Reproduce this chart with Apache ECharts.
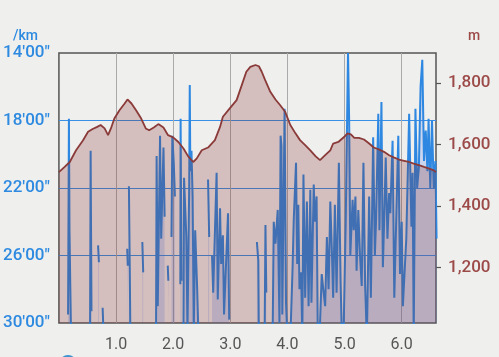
<!DOCTYPE html>
<html>
<head>
<meta charset="utf-8">
<script src="https://cdn.jsdelivr.net/npm/echarts@6/dist/echarts.min.js"></script>
<style>
  html, body { margin: 0; padding: 0; background: #efefee; }
  #chart { width: 499px; height: 357px; }
</style>
</head>
<body>
<div id="chart"></div>
<script>
// pace axis ticks (min per km, axis is inverted) and elevation ticks (m)
const paceTicks = [14, 18, 22, 26, 30]
const elevTicks = [1200, 1400, 1600, 1800]

// [distance km, elevation m]
const elevation = [
  [0, 1510], [0.1, 1527], [0.19, 1543], [0.3, 1581], [0.42, 1613], [0.51, 1641],
  [0.59, 1650], [0.67, 1657], [0.73, 1663], [0.8, 1652], [0.86, 1630], [0.91, 1652],
  [0.97, 1684], [1.06, 1711], [1.15, 1733], [1.2, 1746], [1.27, 1733], [1.35, 1711],
  [1.44, 1684], [1.52, 1652], [1.58, 1646], [1.66, 1655], [1.74, 1666], [1.83, 1655],
  [1.91, 1630], [2.0, 1623], [2.09, 1608], [2.18, 1587], [2.26, 1562], [2.35, 1543],
  [2.41, 1554], [2.5, 1581], [2.61, 1590], [2.73, 1614], [2.82, 1657], [2.87, 1690],
  [2.99, 1717], [3.11, 1744], [3.19, 1787], [3.28, 1836], [3.35, 1852], [3.44, 1858],
  [3.5, 1854], [3.55, 1836], [3.61, 1809], [3.7, 1771], [3.79, 1746], [3.87, 1728],
  [3.96, 1706], [4.05, 1663], [4.14, 1636], [4.22, 1614], [4.31, 1598], [4.4, 1581],
  [4.49, 1562], [4.57, 1549], [4.66, 1565], [4.75, 1581], [4.8, 1603], [4.89, 1608],
  [4.99, 1624], [5.05, 1636], [5.11, 1633], [5.17, 1621], [5.25, 1621], [5.34, 1616],
  [5.43, 1603], [5.51, 1590], [5.6, 1584], [5.69, 1576], [5.78, 1565], [5.86, 1558],
  [5.95, 1551], [6.04, 1547], [6.13, 1543], [6.21, 1538], [6.3, 1533], [6.39, 1527],
  [6.47, 1522], [6.56, 1516], [6.6, 1510]
]

// [distance km, pace min/km]; null = no reading, > 30 = off the chart
const pace = [
  [0.15, null],
  [0.16, 29.5], [0.175, 17.9], [0.185, 24.5], [0.2, 28.0], [0.21, 30.2],
  [0.3, null],
  [0.545, 30.5], [0.555, 19.8], [0.57, 29.3],
  [0.62, null],
  [0.685, 25.4], [0.7, 26.4],
  [0.73, null],
  [0.765, 29.1], [0.78, 30.5],
  [1.0, null],
  [1.195, 25.6], [1.205, 26.6],
  [1.21, null],
  [1.225, 21.9], [1.24, 26.8], [1.25, 30.5],
  [1.35, null],
  [1.46, 25.2], [1.475, 27.0],
  [1.6, null],
  [1.7, 30.5], [1.71, 20.1], [1.73, 29.0], [1.77, 18.9], [1.79, 25.0], [1.83, 19.6], [1.85, 23.7],
  [1.88, null],
  [1.905, 26.6], [1.915, 27.5],
  [1.94, null],
  [1.97, 24.9], [1.985, 18.9], [2.01, 20.5], [2.03, 22.5],
  [2.08, null],
  [2.125, 27.7], [2.13, 17.9], [2.145, 27.5],
  [2.16, null],
  [2.18, 30.5], [2.19, 21.4], [2.23, 24.9], [2.25, 30.5], [2.28, 22.0], [2.29, 15.9], [2.3, 21.0],
  [2.32, 19.8], [2.34, 22.5], [2.36, 30.5], [2.385, 24.5], [2.42, 28.0], [2.44, 30.5],
  [2.5, null],
  [2.61, 21.5], [2.63, 24.9],
  [2.65, null],
  [2.68, 26.0], [2.7, 28.2], [2.76, 21.1], [2.78, 28.6], [2.82, 23.2], [2.84, 26.5], [2.87, 24.8],
  [2.89, 29.5], [2.96, 23.5], [2.98, 29.8],
  [3.2, null],
  [3.465, 25.2], [3.49, 26.3], [3.5, 31],
  [3.55, null],
  [3.6, 31], [3.615, 24.2], [3.63, 28.2],
  [3.7, null],
  [3.74, 31], [3.76, 24.0], [3.79, 25.3], [3.83, 23.3], [3.86, 30], [3.88, 18.9], [3.895, 19.5],
  [3.91, 29.5], [3.95, 17.3], [3.975, 28.8], [4.0, 31], [4.05, 31], [4.09, 26.7], [4.11, 23.9],
  [4.15, 20.5], [4.17, 26.5], [4.19, 23], [4.21, 28.0], [4.24, 27], [4.26, 31], [4.28, 21.2],
  [4.31, 28.5], [4.34, 22.8], [4.37, 29], [4.4, 22.1], [4.42, 28.8], [4.46, 21.8], [4.48, 24],
  [4.51, 22.5], [4.53, 30.5], [4.56, 31], [4.6, 27.1], [4.63, 28.1], [4.66, 29], [4.69, 24.9],
  [4.72, 28], [4.75, 22.8], [4.78, 26], [4.8, 28.5], [4.83, 23], [4.86, 28.2], [4.9, 20.5],
  [4.93, 27.5], [4.95, 30.5], [4.98, 31], [5.02, 24], [5.06, 14.0], [5.08, 18], [5.1, 26],
  [5.14, 22.7], [5.16, 24.5], [5.19, 22.5], [5.21, 26.9], [5.24, 23.3], [5.27, 26], [5.3, 27.8],
  [5.33, 20.5], [5.36, 27.8], [5.39, 31], [5.41, 31], [5.43, 22.5], [5.46, 28.5], [5.5, 19.0],
  [5.53, 26], [5.55, 24], [5.59, 17.6], [5.61, 24.5], [5.645, 16.9], [5.67, 26.7], [5.7, 23],
  [5.72, 20.2], [5.75, 25], [5.78, 22.3], [5.8, 23.5], [5.84, 19.2], [5.87, 28.5], [5.9, 28.5],
  [5.94, 18.9], [5.97, 27.1], [6.0, 24], [6.02, 29], [6.05, 27], [6.08, 25], [6.13, 17.6],
  [6.17, 24.3], [6.19, 21.1], [6.21, 30.8], [6.24, 17.3], [6.27, 22], [6.3, 20.8], [6.33, 16.0],
  [6.36, 14.4], [6.39, 20.4], [6.42, 18.6], [6.45, 21], [6.47, 17.9], [6.5, 22], [6.53, 18.0],
  [6.56, 22], [6.59, 20.4], [6.61, 25]
]

const chart = echarts.init(document.getElementById('chart'))

const option = {
  backgroundColor: '#efefee',
  animation: false,
  textStyle: { fontFamily: 'Roboto' },
  grid: {
    left: 58, right: 63, top: 53, bottom: 34,
    show: true,
    borderColor: '#555',
    borderWidth: 1.5,
    backgroundColor: 'transparent'
  },
  graphic: [
    { type: 'text', left: 13, top: 29, style: { text: '/km', fill: '#2d8ae0', font: '500 14px Roboto' } },
    { type: 'text', left: 468, top: 29, style: { text: 'm', fill: '#9c4a48', font: '500 14px Roboto' } },
    { type: 'circle', shape: { cx: 68, cy: 364, r: 8 }, style: { fill: 'none', stroke: '#3b93d0', lineWidth: 2 } }
  ],
  xAxis: {
    type: 'value',
    min: 0,
    max: 6.6,
    interval: 1,
    axisLine: { show: false },
    axisTick: { show: false },
    axisLabel: {
      color: '#555',
      fontSize: 16,
      margin: 14,
      showMinLabel: false,
      showMaxLabel: false,
      formatter: (v) => v.toFixed(1)
    },
    splitLine: {
      lineStyle: {
        color: ['transparent', '#aaa', '#aaa', '#aaa', '#aaa', '#aaa', '#aaa', 'transparent'],
        width: 1
      }
    }
  },
  yAxis: [
    {
      type: 'value',
      inverse: true,
      min: paceTicks[0],
      max: paceTicks[paceTicks.length - 1],
      interval: 4,
      axisLine: { show: false },
      axisTick: { show: false },
      axisLabel: {
        color: '#2d8ae0',
        fontSize: 17,
        fontWeight: 500,
        margin: 9,
        formatter: (v) => v + "'00\""
      },
      splitLine: {
        lineStyle: {
          color: ['transparent', '#3a8fe6', '#3a8fe6', '#3a8fe6', 'transparent'],
          width: 1.2
        }
      }
    },
    {
      type: 'value',
      position: 'right',
      min: 1020,
      max: 1897,
      axisLine: { show: false },
      axisTick: {
        show: true,
        customValues: elevTicks,
        length: 5,
        lineStyle: { color: '#555', width: 1.2 }
      },
      axisLabel: {
        customValues: elevTicks,
        color: '#9c4a48',
        fontSize: 17,
        fontWeight: 500,
        margin: 12,
        formatter: (v) => v.toLocaleString('en-US')
      },
      splitLine: { show: false }
    }
  ],
  series: [
    {
      name: 'pace',
      type: 'line',
      yAxisIndex: 0,
      data: pace,
      showSymbol: false,
      connectNulls: false,
      z: 2,
      lineStyle: { color: '#2e87e0', width: 2 },
      itemStyle: { color: '#2e87e0' },
      areaStyle: { origin: 'end', color: 'rgba(80, 130, 235, 0.32)' }
    },
    {
      name: 'elevation',
      type: 'line',
      yAxisIndex: 1,
      data: elevation,
      showSymbol: false,
      z: 3,
      lineStyle: { color: '#8a3a38', width: 1.8 },
      itemStyle: { color: '#8a3a38' },
      areaStyle: { origin: 'start', color: 'rgba(125, 35, 30, 0.33)' }
    }
  ]
}

chart.setOption(option)
</script>
</body>
</html>
